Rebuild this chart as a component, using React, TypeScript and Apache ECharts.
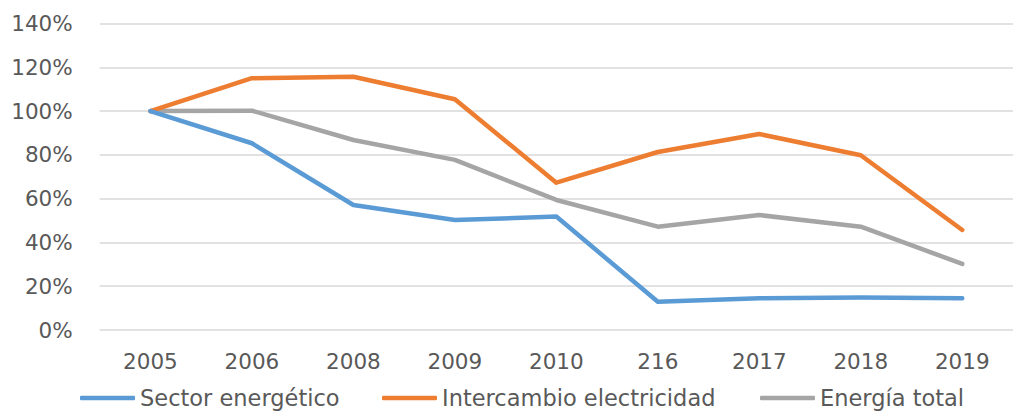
import React, { useEffect, useRef } from "react";
import * as echarts from "echarts";

const categories = ["2005", "2006", "2008", "2009", "2010", "216", "2017", "2018", "2019"];
const sectorEnergetico = [100, 85.3, 57.1, 50.2, 51.8, 12.9, 14.5, 14.9, 14.5];
const intercambioElectricidad = [100, 115, 115.7, 105.4, 67.3, 81.3, 89.5, 79.8, 45.7];
const energiaTotal = [100, 100.2, 86.8, 77.7, 59.4, 47.2, 52.5, 47.2, 30.2];
const seriesNames = ["Sector energético", "Intercambio electricidad", "Energía total"];
const colors = ["#5B9BD5", "#ED7D31", "#A5A5A5"];
const yMin = 0;
const yMax = 140;
const yInterval = 20;

const FONT = "DejaVu Sans";
const TEXT = "#595959";

export default function App() {
  const ref = useRef<HTMLDivElement>(null);
  useEffect(() => {
    if (!ref.current) return;
    const chart = echarts.init(ref.current, null, { renderer: "svg" });
    const values = [sectorEnergetico, intercambioElectricidad, energiaTotal];
    const legendLefts = [80, 382, 760];
    chart.setOption({
      animation: false,
      color: colors,
      grid: { left: 99.7, right: -10, top: 23.5, bottom: 83, containLabel: false },
      legend: seriesNames.map((n, i) => ({
        data: [n],
        left: legendLefts[i],
        top: 386,
        padding: 0,
        icon: "roundRect",
        itemWidth: 55,
        itemHeight: 4.5,
        textStyle: { color: TEXT, fontFamily: FONT, fontSize: 22.5, lineHeight: 24 },
      })),
      xAxis: {
        type: "category",
        data: categories,
        boundaryGap: true,
        axisLine: { show: false },
        axisTick: { show: false },
        axisLabel: { color: TEXT, fontFamily: FONT, fontSize: 21.5, margin: 20 },
      },
      yAxis: {
        type: "value",
        min: yMin,
        max: yMax,
        interval: yInterval,
        axisLine: { show: false },
        axisTick: { show: false },
        axisLabel: {
          color: TEXT,
          fontFamily: FONT,
          fontSize: 21.5,
          margin: 27,
          formatter: "{value}%",
        },
        splitLine: { lineStyle: { color: "#D9D9D9", width: 1.5 } },
      },
      series: seriesNames.map((n, i) => ({
        name: n,
        type: "line",
        data: values[i],
        symbol: "none",
        lineStyle: { width: 4.5, color: colors[i], cap: "round", join: "round" },
        itemStyle: { color: colors[i] },
        z: 3 - i,
      })),
    });
    return () => chart.dispose();
  }, []);
  return (
    <div
      ref={ref}
      style={{ position: "fixed", left: 0, top: 0, width: 1013, height: 413, background: "#fff" }}
    />
  );
}
